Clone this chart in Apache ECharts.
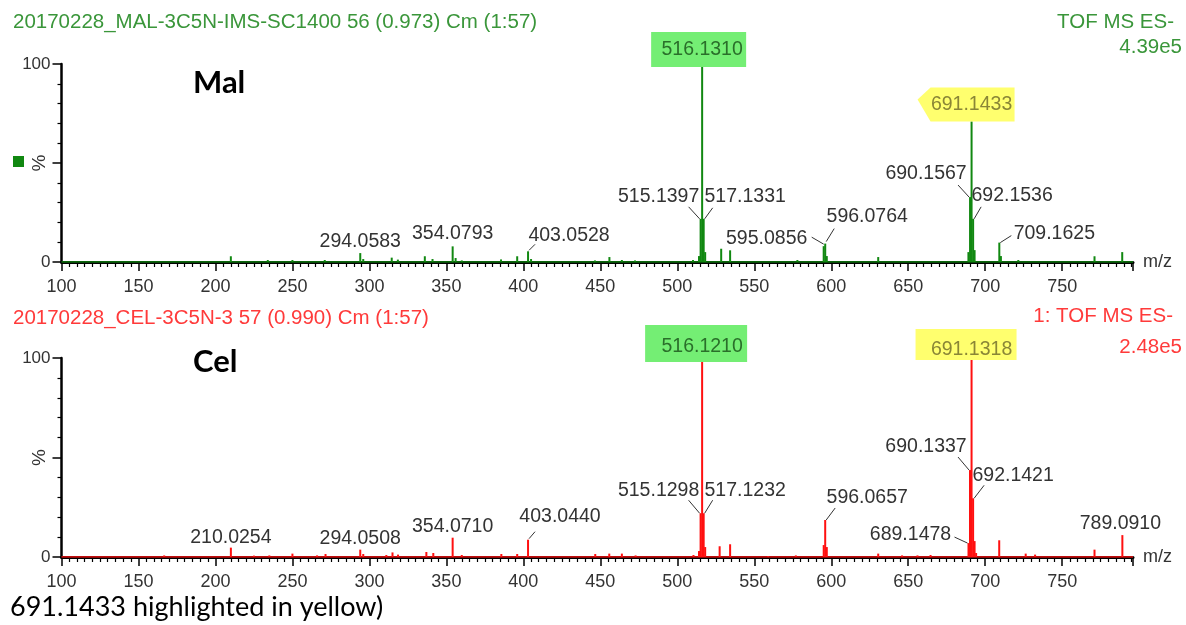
<!DOCTYPE html>
<html><head><meta charset="utf-8">
<script src="https://cdn.jsdelivr.net/npm/echarts@6/dist/echarts.min.js"></script>
<style>html,body{margin:0;padding:0;background:#fff}#c{width:1186px;height:625px}</style>
</head><body><div id="c"></div>
<script>
// ---------- data ----------
const xMin = 100, xMax = 796, xStep = 50;
const yTickLabels = {0: '0', 50: '%', 100: '100'};

const malTitle = '20170228_MAL-3C5N-IMS-SC1400 56 (0.973) Cm (1:57)';
const malMode = 'TOF MS ES-';
const malBPI = '4.39e5';
const malMz  = [210.0, 234.0, 250.0, 271.0, 294.0583, 296.0, 314.5, 318.5, 336.0, 341.0,
                354.0793, 356.0, 360.0, 385.5, 396.0, 403.0528, 405.0, 446.5, 455.9, 464.0,
                472.5, 510.2, 514.1, 515.1397, 516.1310, 517.1331, 518.1, 528.5, 534.3, 578.0,
                595.0856, 596.0764, 597.1, 630.5, 689.1, 690.1567, 691.1433, 692.1536, 693.1, 709.1625,
                710.2, 721.5, 771.0, 789.0];
const malInt = [2.9, 1.0, 1.0, 1.0, 4.5, 1.5, 2.2, 1.2, 2.9, 1.5,
                7.9, 2.0, 0.8, 1.3, 2.9, 5.4, 1.5, 0.8, 2.5, 1.0,
                0.8, 1.0, 3.0, 21.8, 100, 21.8, 5.0, 6.7, 5.9, 1.0,
                8.0, 9.3, 3.0, 2.5, 5.0, 32.8, 71.0, 21.8, 6.0, 9.8,
                3.0, 1.0, 2.9, 5.0];
const malLabelMz = [294.0583, 354.0793, 403.0528, 515.1397, 516.1310, 517.1331,
                    595.0856, 596.0764, 690.1567, 691.1433, 692.1536, 709.1625];

const celTitle = '20170228_CEL-3C5N-3 57 (0.990) Cm (1:57)';
const celMode = '1: TOF MS ES-';
const celBPI = '2.48e5';
const celMz  = [166.7, 210.0254, 225.0, 235.0, 250.0, 266.0, 271.5, 294.0508, 296.0, 311.0,
                315.0, 318.6, 337.0, 341.5, 354.0710, 360.0, 385.7, 396.0, 403.0440, 446.7,
                455.8, 464.0, 472.9, 510.5, 514.1, 515.1298, 516.1210, 517.1232, 518.1, 527.5,
                534.3, 559.0, 577.0, 595.1, 596.0657, 597.1, 630.5, 646.0, 656.0, 664.5,
                689.1478, 690.1337, 691.1318, 692.1421, 693.1, 694.1, 709.1, 726.3, 732.4, 771.0,
                789.0910];
const celInt = [0.8, 4.7, 0.7, 0.8, 1.7, 0.8, 1.5, 3.7, 1.5, 1.0,
                2.3, 1.2, 2.5, 2.0, 9.7, 1.0, 1.5, 1.5, 8.7, 1.5,
                1.7, 1.7, 0.8, 1.0, 3.0, 22.0, 99.0, 22.0, 5.0, 5.4,
                6.4, 0.5, 0.8, 6.0, 18.6, 5.0, 1.7, 0.8, 0.8, 1.0,
                7.0, 43.7, 100, 29.5, 8.0, 2.0, 8.4, 1.7, 1.2, 3.7,
                11.0];
const celLabelMz = [210.0254, 294.0508, 354.0710, 403.0440, 515.1298, 516.1210, 517.1232,
                    596.0657, 689.1478, 690.1337, 691.1318, 692.1421, 789.0910];

const panelNames = ['Mal', 'Cel'];
const captionText = '691.1433 highlighted in yellow)';

// ---------- presentation (label placement relative to the peak top, px) ----------
const malPlace = {
  '294.0583': {dx: 0, dy: -11},
  '354.0793': {dx: 0, dy: -13},
  '403.0528': {dx: 41, dy: -16, lead: [1, -1, 7, -7]},
  '515.1397': {dx: -42, dy: -22, lead: [-1, 0, -12, -12]},
  '516.1310': {dx: 0, dy: -14, hl: 'green', box: [-51, -18, 95, 35]},
  '517.1331': {dx: 41.5, dy: -22, lead: [1, 0, 9, -11]},
  '595.0856': {dx: -57, dy: -8, lead: [0, -2, -12, -9]},
  '596.0764': {dx: 42, dy: -27, lead: [1, -2, 9, -15]},
  '690.1567': {dx: -44, dy: -23, lead: [-1, 0, -12, -12]},
  '691.1433': {dx: 0, dy: -17, hl: 'yellowArrow'},
  '692.1536': {dx: 39, dy: -23, lead: [1, 0, 8, -12]},
  '709.1625': {dx: 55, dy: -9, lead: [1, 0, 12, -7]}
};
const celPlace = {
  '210.0254': {dx: 0, dy: -10},
  '294.0508': {dx: 0, dy: -11},
  '354.0710': {dx: 0, dy: -11},
  '403.0440': {dx: 32, dy: -23, lead: [1, -1, 7, -8]},
  '515.1298': {dx: -42, dy: -22.5, lead: [-1, 0, -12, -13]},
  '516.1210': {dx: 0, dy: -13, hl: 'green', box: [-57, -22, 102, 37]},
  '517.1232': {dx: 41.5, dy: -22.5, lead: [1, 0, 9, -13]},
  '596.0657': {dx: 42, dy: -22, lead: [1, 0, 10, -12]},
  '689.1478': {dx: -58, dy: -8, lead: [-1, 0, -14, -6]},
  '690.1337': {dx: -44, dy: -23, lead: [-1, 0, -12, -13]},
  '691.1318': {dx: 0, dy: -8, hl: 'yellow', box: [-56, -21, 101, 31]},
  '692.1421': {dx: 40, dy: -23, lead: [1, 0, 11, -13]},
  '789.0910': {dx: -2, dy: -11}
};

const ML_FONT = "'Liberation Sans', Arial, sans-serif";
const GREEN_TXT = '#3a963a', GREEN_LINE = '#118811';
const RED_TXT = '#ff3a3a', RED_LINE = '#ff1010';
const HL_GREEN = '#74ee74', HL_YELLOW = '#ffff6e';

function labelSeries(idx, labelMz, mzArr, intArr, place) {
  const data = labelMz.map(m => [m, intArr[mzArr.indexOf(m)]]);
  return {
    type: 'custom', xAxisIndex: idx, yAxisIndex: idx * 2, data: data,
    clip: false, silent: true, z: 10,
    renderItem: function (params, api) {
      const m = api.value(0), h = api.value(1);
      const p = api.coord([m, h]);
      const key = m.toFixed(4);
      const pl = place[key] || {dx: 0, dy: -12};
      const cx = p[0] + pl.dx, cy = p[1] + pl.dy;
      const children = [];
      let fill = '#333333';
      if (pl.hl === 'yellowArrow') {
        children.push({type: 'polygon', shape: {points: [
          [cx - 41, cy - 17], [cx + 43, cy - 17], [cx + 43, cy + 17], [cx - 41, cy + 17], [cx - 54, cy - 5]]},
          style: {fill: HL_YELLOW}});
        fill = '#8a8636';
      } else if (pl.hl) {
        const b = pl.box;
        children.push({type: 'rect', shape: {x: cx + b[0], y: cy + b[1], width: b[2], height: b[3]},
          style: {fill: pl.hl === 'green' ? HL_GREEN : HL_YELLOW}});
        fill = pl.hl === 'green' ? '#2a6f2a' : '#8a8636';
      }
      if (pl.lead) {
        children.push({type: 'line', shape: {
          x1: p[0] + pl.lead[0], y1: p[1] + pl.lead[1], x2: p[0] + pl.lead[2], y2: p[1] + pl.lead[3]},
          style: {stroke: '#333333', lineWidth: 1}});
      }
      children.push({type: 'text', x: cx, y: cy, style: {
        text: key, fontSize: 19.5, fontFamily: ML_FONT, fill: fill,
        align: 'center', verticalAlign: 'middle'}});
      return {type: 'group', children: children};
    }
  };
}

function xAxisCfg(idx) {
  return {
    type: 'value', gridIndex: idx, min: xMin, max: xMax, interval: xStep, offset: 1,
    name: 'm/z', nameLocation: 'end', nameGap: 10,
    nameTextStyle: {fontSize: 18, fontFamily: ML_FONT, color: '#333', padding: [9, 0, 0, 0]},
    axisLine: {show: true, lineStyle: {color: '#000', width: 3}},
    axisTick: {show: true, length: 9, lineStyle: {color: '#000', width: 1.5}},
    minorTick: {show: true, splitNumber: 10, length: 5, lineStyle: {color: '#000', width: 1.2}},
    axisLabel: {fontSize: 18, fontFamily: ML_FONT, color: '#333', margin: 15,
      formatter: v => (v > 750 ? '' : String(v))},
    splitLine: {show: false}
  };
}
function yAxisCfg(idx) {
  return [{
    type: 'value', gridIndex: idx, position: 'left', offset: 0, min: 0, max: 100, interval: 50,
    axisLine: {show: true, lineStyle: {color: '#000', width: 2.5}},
    axisTick: {show: true, length: 9, lineStyle: {color: '#000', width: 1.5}},
    minorTick: {show: true, splitNumber: 5, length: 4, lineStyle: {color: '#000', width: 1.2}},
    axisLabel: {fontSize: 17, fontFamily: ML_FONT, color: '#333', margin: 11,
      formatter: v => (v === 50 ? '' : (yTickLabels[v] || ''))},
    splitLine: {show: false}
  }, {
    type: 'value', gridIndex: idx, position: 'left', offset: 0, min: 0, max: 100, interval: 50,
    axisLine: {show: false}, axisTick: {show: false},
    axisLabel: {fontSize: 19, fontFamily: ML_FONT, color: '#333', margin: 12, rotate: 90,
      formatter: v => (v === 50 ? yTickLabels[v] : '')},
    splitLine: {show: false}
  }];
}
function barSeries(idx, mzArr, intArr, color) {
  return {
    type: 'bar', xAxisIndex: idx, yAxisIndex: idx * 2, barWidth: 2, silent: true,
    data: mzArr.map((m, i) => [m, intArr[i]]),
    itemStyle: {color: color}, z: 3
  };
}
function baseSeries(idx, color) {
  return {
    type: 'line', xAxisIndex: idx, yAxisIndex: idx * 2, silent: true, symbol: 'none',
    data: [[xMin, 0], [xMax, 0]], lineStyle: {color: color, width: 1.5}, z: 2
  };
}

const chart = echarts.init(document.getElementById('c'));
chart.setOption({
  animation: false,
  backgroundColor: '#ffffff',
  grid: [
    {left: 61.5, right: 53, top: 64, height: 198},
    {left: 61.5, right: 53, top: 358, height: 199}
  ],
  xAxis: [xAxisCfg(0), xAxisCfg(1)],
  yAxis: [].concat(yAxisCfg(0), yAxisCfg(1)),
  series: [
    baseSeries(0, GREEN_LINE), barSeries(0, malMz, malInt, GREEN_LINE),
    labelSeries(0, malLabelMz, malMz, malInt, malPlace),
    baseSeries(1, RED_LINE), barSeries(1, celMz, celInt, RED_LINE),
    labelSeries(1, celLabelMz, celMz, celInt, celPlace)
  ],
  graphic: [
    {type: 'text', left: 13, top: 12, style: {text: malTitle, fontSize: 20.5, fontFamily: ML_FONT, fill: GREEN_TXT}},
    {type: 'text', x: 1174, y: 22, style: {text: malMode, fontSize: 20.5, fontFamily: ML_FONT, fill: GREEN_TXT, align: 'right', verticalAlign: 'middle'}},
    {type: 'text', x: 1182, y: 47, style: {text: malBPI, fontSize: 20.5, fontFamily: ML_FONT, fill: GREEN_TXT, align: 'right', verticalAlign: 'middle'}},
    {type: 'text', x: 193, y: 83, style: {text: panelNames[0], fontSize: 31, fontWeight: 'bold', fontFamily: 'Lato, sans-serif', fill: '#000', verticalAlign: 'middle'}},
    {type: 'rect', shape: {x: 13, y: 156, width: 11, height: 11}, style: {fill: '#118811'}},
    {type: 'text', left: 13, top: 308, style: {text: celTitle, fontSize: 20.5, fontFamily: ML_FONT, fill: RED_TXT}},
    {type: 'text', x: 1173, y: 316, style: {text: celMode, fontSize: 20.5, fontFamily: ML_FONT, fill: RED_TXT, align: 'right', verticalAlign: 'middle'}},
    {type: 'text', x: 1182, y: 347, style: {text: celBPI, fontSize: 20.5, fontFamily: ML_FONT, fill: RED_TXT, align: 'right', verticalAlign: 'middle'}},
    {type: 'text', x: 193, y: 362, style: {text: panelNames[1], fontSize: 31, fontWeight: 'bold', fontFamily: 'Lato, sans-serif', fill: '#000', verticalAlign: 'middle'}},
    {type: 'text', x: 10, y: 607, style: {text: captionText, fontSize: 27, fontFamily: 'Lato, sans-serif', fill: '#000', verticalAlign: 'middle'}}
  ]
});
</script>
</body></html>
